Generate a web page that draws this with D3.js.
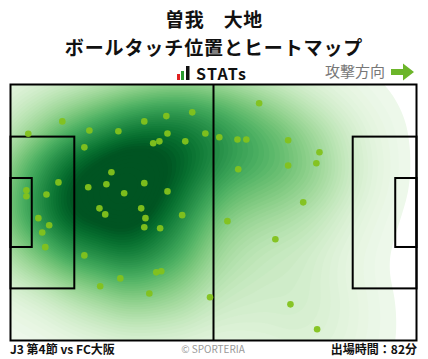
<!DOCTYPE html>
<html><head><meta charset="utf-8">
<script src="https://cdn.jsdelivr.net/npm/d3@7"></script>
<style>
html,body{margin:0;padding:0;background:#fff;}
svg{display:block;}
text{font-family:"Noto Sans CJK JP","Noto Sans",sans-serif;}
</style></head>
<body>
<script>
// Ball touch positions (pitch metres: x 0-105 attacking right, y 0-68 from top)
const touchX = [13.4,4.6,20.4,19.1,27.9,34.6,40.3,47.0,40.6,38.5,36.9,45.2,50.4,26.1,12.4,20.1,24.8,34.6,29.4,40.6,9.3,4.1,4.1,23.0,33.8,24.5,34.9,34.6,38.7,44.4,7.2,10.0,8.2,9.0,19.1,37.7,39.0,28.4,23.2,35.9,51.6,64.3,54.0,58.7,61.0,71.8,79.9,79.1,71.8,58.9,75.7,56.1,68.5,72.4,79.3];
const touchY = [9.8,13.1,12.2,16.7,12.4,9.8,8.4,7.4,13.0,15.1,15.6,15.1,13.0,23.3,26.0,27.3,26.5,26.2,28.9,28.4,29.2,28.1,29.7,32.9,32.9,34.5,35.5,37.9,38.2,34.7,35.5,37.4,39.3,43.2,45.4,49.9,49.6,51.5,53.6,55.5,56.5,5.0,14.0,14.6,14.6,14.8,18.0,20.9,21.5,22.5,31.3,36.3,41.1,58.4,65.0];
const titleLines = ["曽我　大地","ボールタッチ位置とヒートマップ"];
const footerLeft = "J3 第4節 vs FC大阪";
const footerRight = "出場時間：82分";
const credit = "© SPORTERIA";
const directionLabel = "攻撃方向";

const W = 428, H = 359;
const svg = d3.select("body").append("svg").attr("width", W).attr("height", H);

const fx0 = 10.5, fy0 = 84.5, fw = 406, fh = 256;
const x = d3.scaleLinear().domain([0,105]).range([fx0, fx0+fw]);
const y = d3.scaleLinear().domain([0,68]).range([fy0, fy0+fh]);

// Titles
svg.append("text").attr("x",214).attr("y",27).attr("text-anchor","middle")
  .attr("font-size",19).attr("font-weight","bold").attr("fill","#111").attr("letter-spacing",0.5).text(titleLines[0]);
svg.append("text").attr("x",214).attr("y",54.5).attr("text-anchor","middle")
  .attr("font-size",19).attr("font-weight","bold").attr("fill","#111").attr("letter-spacing",0.9).text(titleLines[1]);

// STATs logo
const logo = svg.append("g");
logo.append("rect").attr("x",177).attr("y",74).attr("width",3).attr("height",6).attr("fill","#e02020");
logo.append("rect").attr("x",181).attr("y",71).attr("width",3).attr("height",9).attr("fill","#2a9a30");
logo.append("rect").attr("x",186).attr("y",66).attr("width",3.5).attr("height",14).attr("fill","#111");
logo.append("text").attr("x",196).attr("y",80).attr("font-family","'DejaVu Sans',sans-serif")
  .attr("font-size",16).attr("font-weight","bold").attr("fill","#111").attr("letter-spacing",1.3).text("STATs");

// Attack direction
svg.append("text").attr("x",385).attr("y",77).attr("text-anchor","end")
  .attr("font-size",15).attr("fill","#777").text(directionLabel);
svg.append("path").attr("d","M391,69 H403 V63.5 L414,72 L403,80.5 V75 H391 Z").attr("fill","#6cb52a");

// Heat map
const clipId = "pitchclip";
svg.append("clipPath").attr("id",clipId).append("rect")
  .attr("x",fx0).attr("y",fy0).attr("width",fw).attr("height",fh);

const pts = touchX.map((d,i)=>[x(d)-fx0, y(touchY[i])-fy0]);
const dens = d3.contourDensity().x(d=>d[0]).y(d=>d[1])
  .size([fw,fh]).cellSize(2).bandwidth(42).thresholds(70)(pts);
const maxV = d3.max(dens, d=>d.value);
const col = d3.scaleSequential(t=>d3.interpolateGreens(0.05 + 0.9*t)).domain([0, maxV*0.88]).clamp(true);
svg.append("g").attr("clip-path",`url(#${clipId})`)
  .append("g").attr("transform",`translate(${fx0},${fy0})`)
  .selectAll("path").data(dens.filter(d=>d.value>maxV*0.015)).join("path")
  .attr("d", d3.geoPath()).attr("fill", d=>col(d.value));

// Pitch lines
const lines = svg.append("g").attr("fill","none").attr("stroke","#000").attr("stroke-width",2);
lines.append("rect").attr("x",x(0)).attr("y",y(0)).attr("width",x(105)-x(0)).attr("height",y(68)-y(0));
lines.append("line").attr("x1",x(52.5)).attr("x2",x(52.5)).attr("y1",y(0)).attr("y2",y(68));
lines.append("rect").attr("x",x(0)).attr("y",y(13.84)).attr("width",x(16.5)-x(0)).attr("height",y(54.16)-y(13.84));
lines.append("rect").attr("x",x(88.5)).attr("y",y(13.84)).attr("width",x(105)-x(88.5)).attr("height",y(54.16)-y(13.84));
lines.append("rect").attr("x",x(0)).attr("y",y(24.84)).attr("width",x(5.5)-x(0)).attr("height",y(43.16)-y(24.84));
lines.append("rect").attr("x",x(99.5)).attr("y",y(24.84)).attr("width",x(105)-x(99.5)).attr("height",y(43.16)-y(24.84));

// Points
svg.append("g").selectAll("circle").data(touchX).join("circle")
  .attr("cx",(d)=>x(d)).attr("cy",(d,i)=>y(touchY[i])).attr("r",3.3)
  .attr("fill","#83c21c").attr("opacity",0.95);

// Footer
svg.append("text").attr("x",10).attr("y",354).attr("font-size",12).attr("font-weight","bold").attr("fill","#111").text(footerLeft);
svg.append("text").attr("x",213).attr("y",353).attr("text-anchor","middle").attr("font-size",10).attr("fill","#999")
  .attr("font-family","Roboto,sans-serif").text(credit);
svg.append("text").attr("x",417).attr("y",354).attr("text-anchor","end").attr("font-size",12).attr("font-weight","bold").attr("fill","#111").text(footerRight);
</script>
</body></html>
